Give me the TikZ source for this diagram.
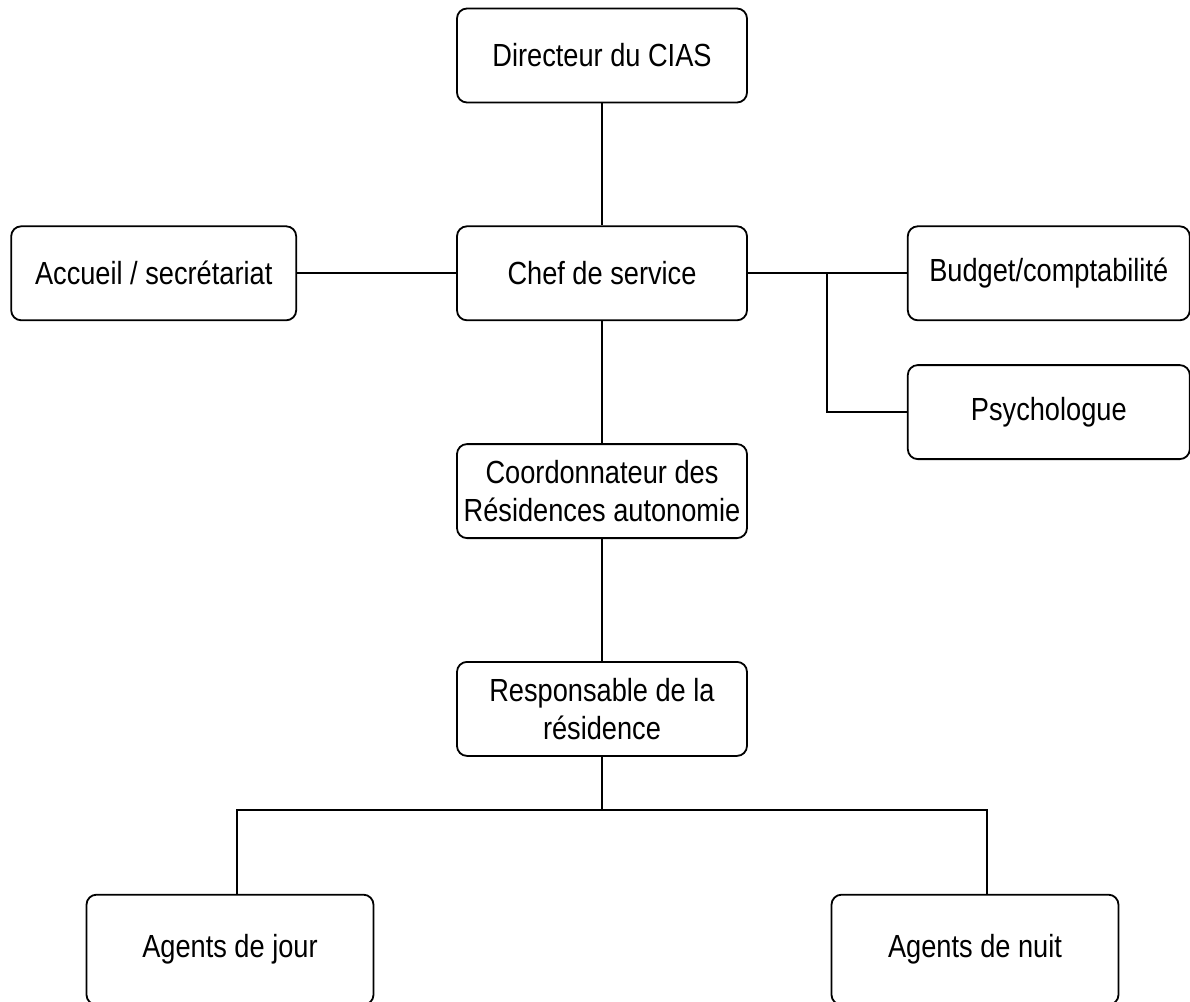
\documentclass[tikz,border=0pt]{standalone}
\usepackage{fontspec}
\setmainfont{Liberation Sans}[FakeStretch=0.85]
\usetikzlibrary{positioning,calc}

\begin{document}
\begin{tikzpicture}[
    node distance=61pt and 79.5pt,
    every node/.style={font=\fontsize{16}{19}\selectfont},
    box/.style={draw,line width=0.9pt,rounded corners=5pt,minimum width=145pt,minimum height=47pt,align=center,inner sep=0pt},
    tallbox/.style={box,minimum width=143.5pt,minimum height=55pt},
    link/.style={line width=0.9pt}
  ]
    \useasboundingbox (-301pt,27.75pt) rectangle (294pt,-473.25pt);
    \node[box] (dir)  at (0,0) {Directeur du CIAS};
    \node[box] (chef) [below=of dir] {Chef de service};
    \node[box,minimum width=142.5pt] (acc)  [left=of chef] {Accueil / secrétariat};
    \node[box,minimum width=141pt] (bud)  [right=of chef] {Budget/comptabilité};
    \node[box,minimum width=141pt] (psy)  [below=21.5pt of bud] {Psychologue};
    \node[box] (coord) [below=of chef] {Coordonnateur des\\Résidences autonomie};
    \node[box] (resp) [below=of coord] {Responsable de la\\résidence};
    \node[tallbox] (jour) [below=68.5pt of resp,xshift=-186pt] {Agents de jour};
    \node[tallbox] (nuit) [below=68.5pt of resp,xshift=186.5pt] {Agents de nuit};
    % liaisons
    \draw[link] (dir)--(chef);
    \draw[link] (acc)--(chef);
    \draw[link] (chef)--(bud);
    \coordinate (split) at ($(chef.east)!0.5!(bud.west)$);
    \draw[link] (split) |- (psy.west);
    \draw[link] (chef)--(coord);
    \draw[link] (coord)--(resp);
    \coordinate (busl) at ($(resp.south)+(-182.5pt,-26.5pt)$);
    \coordinate (busr) at ($(resp.south)+(192.5pt,-26.5pt)$);
    \draw[link] (resp.south) -- (resp.south |- busl);
    \draw[link] (busl |- jour.north) -- (busl) -- (busr) -- (busr |- nuit.north);
  \end{tikzpicture}
\end{document}
